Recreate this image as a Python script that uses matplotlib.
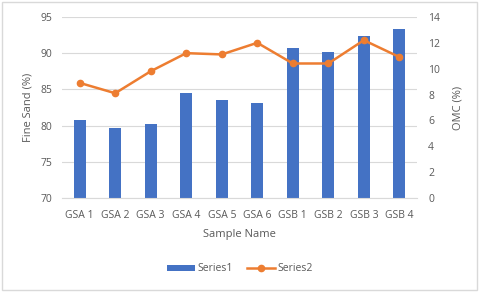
import matplotlib
matplotlib.use("Agg")
import matplotlib.pyplot as plt
from matplotlib.patches import Rectangle

categories = ["GSA 1", "GSA 2", "GSA 3", "GSA 4", "GSA 5", "GSA 6", "GSB 1", "GSB 2", "GSB 3", "GSB 4"]
series1 = [80.7, 79.6, 80.2, 84.5, 83.5, 83.1, 90.7, 90.2, 92.3, 93.3]
series2 = [8.9, 8.1, 9.8, 11.2, 11.1, 12.0, 10.4, 10.4, 12.2, 10.9]

plt.rcParams['font.family'] = ['Open Sans', 'DejaVu Sans']
txt = '#595959'

fig = plt.figure(figsize=(4.8, 2.92), dpi=100)
ax = fig.add_axes([0.129, 0.322, 0.74, 0.62])
x = list(range(len(categories)))
ax.bar(x, [v - 70 for v in series1], bottom=70, width=0.34, color='#4472C4', zorder=2, label='Series1')
ax.set_ylim(70, 95)
ax.set_yticks([70, 75, 80, 85, 90, 95])
ax.set_xlim(-0.5, len(categories) - 0.5)
ax.set_xticks(x)
ax.set_xticklabels(categories)
ax.grid(axis='y', color='#D9D9D9', linewidth=0.8, zorder=0)
for s in ax.spines.values():
    s.set_visible(False)
ax.spines['bottom'].set_visible(True)
ax.spines['bottom'].set_color('#D9D9D9')
ax.tick_params(axis='y', length=0, colors=txt, labelsize=7.5, pad=7)
ax.tick_params(axis='x', length=0, colors=txt, labelsize=7.5, pad=9)
ax.set_ylabel('Fine Sand (%)', color=txt, fontsize=8, labelpad=5)
ax.set_xlabel('Sample Name', color=txt, fontsize=8, labelpad=5.5)

ax2 = ax.twinx()
ax2.plot(x, series2, color='#ED7D31', linewidth=1.8, marker='o', markersize=4.5, zorder=3, label='Series2')
ax2.set_ylim(0, 14)
ax2.set_yticks(range(0, 15, 2))
for s in ax2.spines.values():
    s.set_visible(False)
ax2.tick_params(length=0, colors=txt, labelsize=7.5, pad=8)
ax2.set_ylabel('OMC (%)', color=txt, fontsize=8, labelpad=9)

h1, l1 = ax.get_legend_handles_labels()
h2, l2 = ax2.get_legend_handles_labels()
fig.legend(h1 + h2, l1 + l2, loc='center', bbox_to_anchor=(0.5, 0.079), ncol=2, frameon=False,
           fontsize=7.5, labelcolor=txt, handlelength=2.7, handleheight=0.5, handletextpad=0.25,
           columnspacing=1.3)

fig.patches.append(Rectangle((0.004, 0.006), 0.99, 0.988, transform=fig.transFigure,
                             fill=False, edgecolor='#D9D9D9', linewidth=1))
fig.savefig('out.png', dpi=100)
